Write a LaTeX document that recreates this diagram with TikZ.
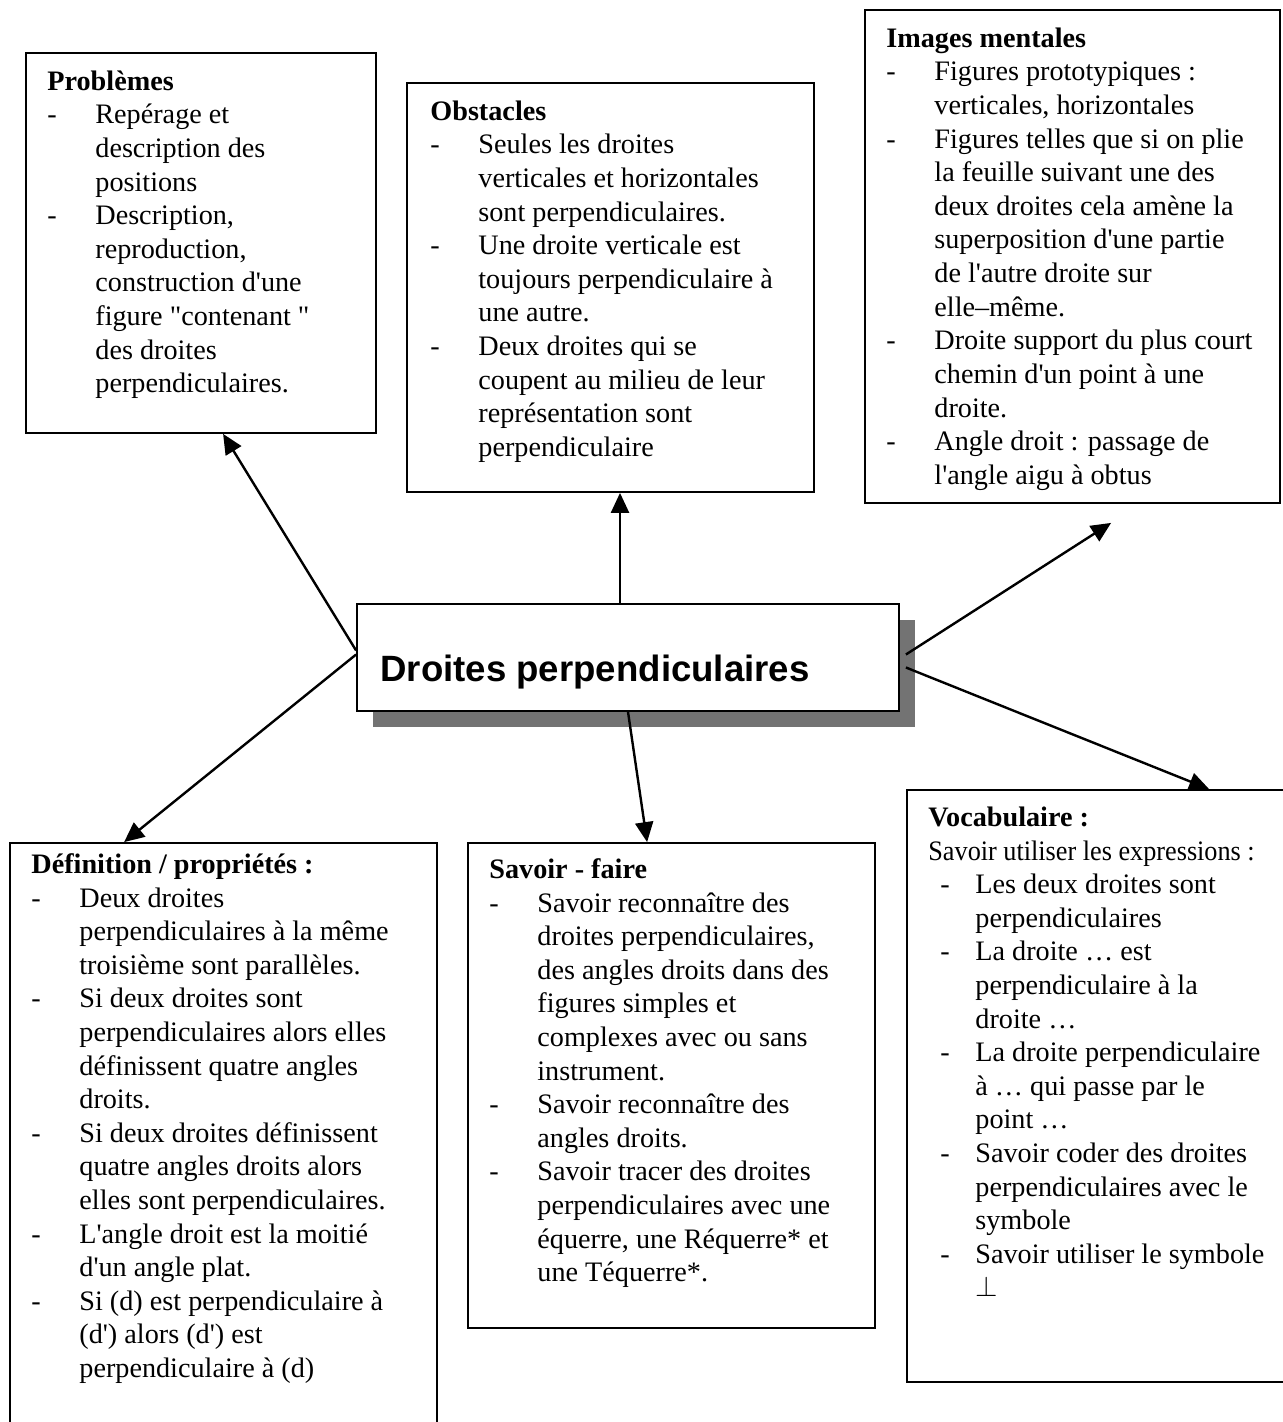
\documentclass[tikz,border=0pt]{standalone}
\usepackage{fontspec}
\setmainfont{Liberation Serif}[Ligatures=TeXOff]
\newfontfamily\headfont{Liberation Sans}
\usepackage{graphicx}
\usetikzlibrary{arrows.meta,calc,shadows}

% indentation of the list items
\newlength\dashgap
\setlength\dashgap{24pt}
\newcommand\bul[1]{\makebox[\dashgap][l]{-}#1}
\newcommand\cont[1]{\hspace*{\dashgap}#1}
\newcommand\vbul[1]{\hspace*{6pt}\makebox[17.5pt][l]{-}#1}
\newcommand\vcont[1]{\hspace*{23.5pt}#1}
\newcommand\firststrut{\rule{0pt}{12pt}}

\begin{document}
\begin{tikzpicture}[x=0.5pt,y=-0.5pt,
  panel/.style 2 args={draw, line width=0.9pt, inner sep=0pt,
    minimum width=#1*0.5pt, minimum height=#2*0.5pt},
  body/.style={anchor=north west, inner sep=0pt, align=left,
    font=\fontsize{14.1pt}{16.8pt}\selectfont},
  link/.style={line width=1.2pt, -{Triangle[length=10pt,width=9pt]}}
]
\useasboundingbox (0,0) rectangle (1282,1422);

% frames
\node[panel={350}{380}] (prob) at (201,243) {};
\node[panel={407}{409}] (obst) at (610.5,287.5) {};
\node[panel={415}{493}] (imag) at (1072.5,256.5) {};
\node[panel={427}{597}] (defi) at (223.5,1141.5) {};
\node[panel={407}{485}] (savo) at (671.5,1085.5) {};
\node[panel={383}{592}] (voca) at (1098.5,1086) {};

% central notion with its shadow
\node[panel={542}{107}, fill=white,
  drop shadow={shadow xshift=8pt, shadow yshift=-8pt, fill=black!55, opacity=1}]
  (centre) at (628,657.5) {};
\node[anchor=base west, inner sep=0pt,
  font=\headfont\bfseries\fontsize{18.3pt}{22pt}\selectfont]
  (ctitle) at (380,681) {Droites perpendiculaires};

% contents
\node[body] (probtxt) at (47,66) {\firststrut\textbf{Problèmes}\\
\bul{Repérage et}\\
\cont{description des}\\
\cont{positions}\\
\bul{Description,}\\
\cont{reproduction,}\\
\cont{construction d'une}\\
\cont{figure "contenant "}\\
\cont{des droites}\\
\cont{perpendiculaires.}};

\node[body] (obsttxt) at (430,96) {\firststrut\textbf{Obstacles}\\
\bul{Seules les droites}\\
\cont{verticales et horizontales}\\
\cont{sont perpendiculaires.}\\
\bul{Une droite verticale est}\\
\cont{toujours perpendiculaire à}\\
\cont{une autre.}\\
\bul{Deux droites qui se}\\
\cont{coupent au milieu de leur}\\
\cont{représentation sont}\\
\cont{perpendiculaire}};

\node[body] (imagtxt) at (886,23) {\firststrut\textbf{Images mentales}\\
\bul{Figures prototypiques :}\\
\cont{verticales, horizontales}\\
\bul{Figures telles que si on plie}\\
\cont{la feuille suivant une des}\\
\cont{deux droites cela amène la}\\
\cont{superposition d'une partie}\\
\cont{de l'autre droite sur}\\
\cont{elle–même.}\\
\bul{Droite support du plus court}\\
\cont{chemin d'un point à une}\\
\cont{droite.}\\
\bul{Angle droit : passage de}\\
\cont{l'angle aigu à obtus}};

\node[body] (defitxt) at (31,849) {\firststrut\textbf{Définition / propriétés :}\\
\bul{Deux droites}\\
\cont{perpendiculaires à la même}\\
\cont{troisième sont parallèles.}\\
\bul{Si deux droites sont}\\
\cont{perpendiculaires alors elles}\\
\cont{définissent quatre angles}\\
\cont{droits.}\\
\bul{Si deux droites définissent}\\
\cont{quatre angles droits alors}\\
\cont{elles sont perpendiculaires.}\\
\bul{L'angle droit est la moitié}\\
\cont{d'un angle plat.}\\
\bul{Si (d) est perpendiculaire à}\\
\cont{(d') alors (d') est}\\
\cont{perpendiculaire à (d)}};

\node[body] (savotxt) at (489,854) {\firststrut\textbf{Savoir - faire}\\
\bul{Savoir reconnaître des}\\
\cont{droites perpendiculaires,}\\
\cont{des angles droits dans des}\\
\cont{figures simples et}\\
\cont{complexes avec ou sans}\\
\cont{instrument.}\\
\bul{Savoir reconnaître des}\\
\cont{angles droits.}\\
\bul{Savoir tracer des droites}\\
\cont{perpendiculaires avec une}\\
\cont{équerre, une Réquerre* et}\\
\cont{une Téquerre*.}};

\node[body] (vocatxt) at (928,802) {\firststrut\textbf{Vocabulaire :}\\
\scalebox{0.93}[1]{Savoir utiliser les expressions :}\\
\vbul{Les deux droites sont}\\
\vcont{perpendiculaires}\\
\vbul{La droite … est}\\
\vcont{perpendiculaire à la}\\
\vcont{droite …}\\
\vbul{La droite perpendiculaire}\\
\vcont{à … qui passe par le}\\
\vcont{point …}\\
\vbul{Savoir coder des droites}\\
\vcont{perpendiculaires avec le}\\
\vcont{symbole}\\
\vbul{Savoir utiliser le symbole}\\
\vcont{$\perp$}};

% connectors from the central notion
\draw[link] ($(centre.west)+(0,-7)$) -- ($(prob.south west)+(198,0)$);
\draw[link] ($(centre.north)+(-8,0)$) -- ($(obst.south)+(9.5,0)$);
\draw[link] ($(centre.east)+(6,-3)$) -- ($(imag.south west)+(247,19)$);
\draw[link] ($(centre.east)+(6,10)$) -- ($(voca.north west)+(303,0)$);
\draw[link] (centre.south) -- ($(savo.north west)+(180,0)$);
\draw[link] ($(centre.west)+(0,-3)$) -- ($(defi.north west)+(115,0)$);
\end{tikzpicture}
\end{document}
